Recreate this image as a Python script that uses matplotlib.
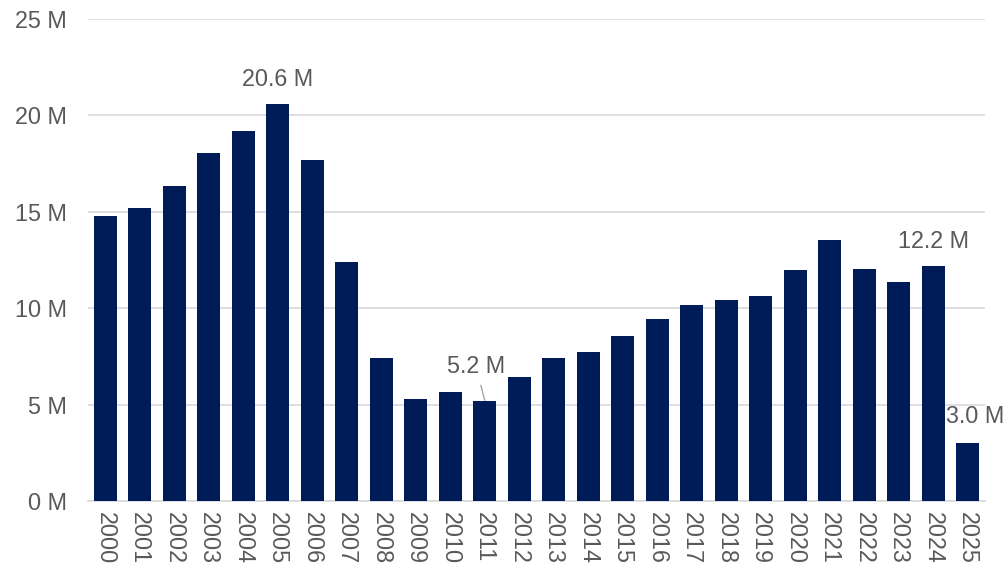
import numpy as np
import matplotlib
matplotlib.use("Agg")
import matplotlib.pyplot as plt

plt.rcParams['font.family'] = ['Liberation Sans', 'DejaVu Sans']

# Werte (Millionen)
years = [str(y) for y in range(2000, 2026)]
values = [14.8, 15.2, 16.35, 18.05, 19.2, 20.6, 17.7, 12.4, 7.4, 5.3,
          5.65, 5.2, 6.45, 7.4, 7.75, 8.55, 9.45, 10.15, 10.45, 10.65,
          12.0, 13.55, 12.05, 11.35, 12.2, 3.0]
yticks = [0, 5, 10, 15, 20, 25]
labelled = {"2005": "20.6 M", "2011": "5.2 M", "2024": "12.2 M", "2025": "3.0 M"}

text_col = "#595959"
bar_col = "#001C58"
fs = 16.8

fig = plt.figure(figsize=(10.07, 5.73), dpi=100)
ax = fig.add_axes([0.0874, 0.1257, 0.8907, 0.8411])

x = np.arange(len(years))
ax.bar(x, values, width=0.67, color=bar_col, zorder=3)

ax.set_xlim(-0.5, len(years) - 0.5)
ax.set_ylim(0, 25)
ax.set_yticks(yticks)
ax.set_yticklabels([f"{v} M" for v in yticks])
ax.set_xticks(x)
ax.set_xticklabels(years, rotation=270)
ax.tick_params(axis='both', length=0, labelsize=fs, colors=text_col)
ax.tick_params(axis='y', pad=15)
ax.tick_params(axis='x', pad=8)

ax.grid(axis='y', color="#D9D9D9", linewidth=1.2, zorder=0)
for s in ['top', 'right', 'left']:
    ax.spines[s].set_visible(False)
ax.spines['bottom'].set_color("#D9D9D9")
ax.spines['bottom'].set_linewidth(1.2)

# Beschriftungen
for yr, txt in labelled.items():
    i = years.index(yr)
    v = values[i]
    if yr == "2011":
        ax.annotate(txt, xy=(i, v + 0.02), xytext=(i - 0.25, v + 1.75),
                    ha='center', va='center', fontsize=fs, color=text_col,
                    arrowprops=dict(arrowstyle='-', color='#A6A6A6', lw=1,
                                    shrinkA=3, shrinkB=0))
    elif yr == "2025":
        ax.text(i + 0.22, v + 1.4, txt, ha='center', va='center',
                fontsize=fs, color=text_col, clip_on=False)
    else:
        ax.text(i, v + 1.25, txt, ha='center', va='center',
                fontsize=fs, color=text_col)

fig.savefig("out.png", dpi=100)
